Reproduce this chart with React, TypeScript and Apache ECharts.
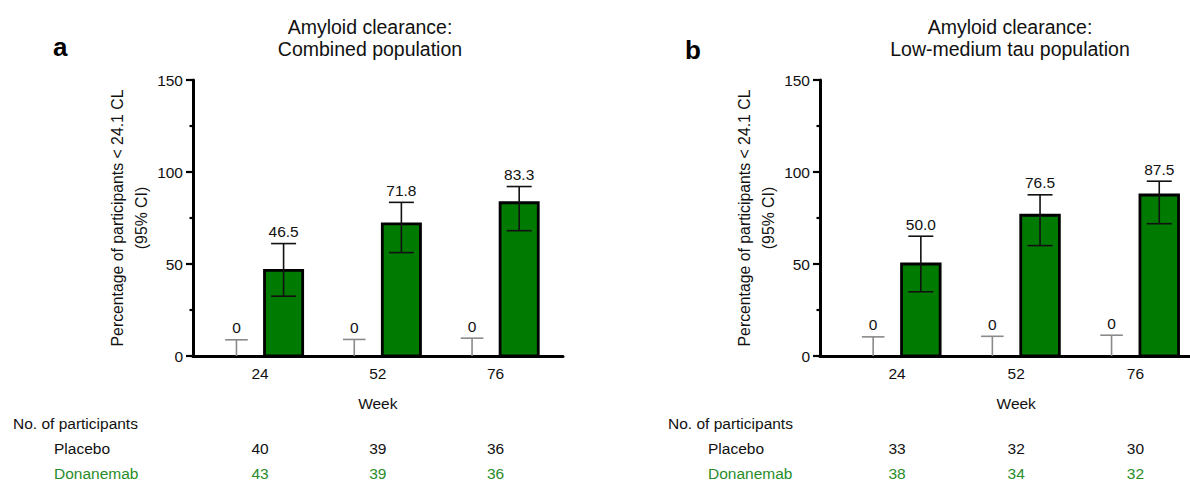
import React, { useEffect, useRef } from 'react';
import * as echarts from 'echarts';

// ---------- data ----------
const weeks = ['24', '52', '76'];
const weekIndex = [0, 1, 2];

// Panel a: combined population
const aPlaceboPct = [0, 0, 0];
const aPlaceboHi = [8.8, 9.0, 9.7];
const aDonPct = [46.5, 71.8, 83.3];
const aDonLo = [32.5, 56.2, 68.1];
const aDonHi = [61.1, 83.5, 92.1];
const aPlaceboN = [40, 39, 36];
const aDonN = [43, 39, 36];

// Panel b: low-medium tau population
const bPlaceboPct = [0, 0, 0];
const bPlaceboHi = [10.4, 10.7, 11.3];
const bDonPct = [50.0, 76.5, 87.5];
const bDonLo = [34.9, 60.0, 71.9];
const bDonHi = [65.1, 87.6, 95.0];
const bPlaceboN = [33, 32, 30];
const bDonN = [38, 34, 32];

const yTicks = { min: 0, max: 150, interval: 50 };

// ---------- styles ----------
const FONT = '"Liberation Sans", Arial, Helvetica, sans-serif';
const FS = 15.5;
const BAR_FILL = '#007a00';
const GREEN_TEXT = '#2a8c2a';
const PLACEBO_GREY = '#8a8a8a';
const BAR_OFFSET = 0.2; // in category units
const BAR_HALF = 0.162; // in category units
const CAP_DON = 12.5;
const CAP_PBO = 11.3;

const fmt = (v: number) => (v === 0 ? '0' : v.toFixed(1));

const donRender = (params: any, api: any) => {
  const i = api.value(0);
  const v = api.value(1);
  const lo = api.value(2);
  const hi = api.value(3);
  const base = api.coord([i, 0]);
  const top = api.coord([i, v]);
  const loP = api.coord([i, lo]);
  const hiP = api.coord([i, hi]);
  const off = api.size([BAR_OFFSET, 0])[0];
  const half = api.size([BAR_HALF, 0])[0];
  const cx = base[0] + off;
  const ls = { stroke: '#111', lineWidth: 1.6 };
  return {
    type: 'group',
    children: [
      {
        type: 'rect',
        shape: { x: cx - half, y: top[1], width: half * 2, height: base[1] - top[1] },
        style: { fill: BAR_FILL, stroke: '#000', lineWidth: 2.8 },
      },
      { type: 'line', shape: { x1: cx, y1: loP[1], x2: cx, y2: hiP[1] }, style: ls },
      { type: 'line', shape: { x1: cx - CAP_DON, y1: hiP[1], x2: cx + CAP_DON, y2: hiP[1] }, style: ls },
      { type: 'line', shape: { x1: cx - CAP_DON, y1: loP[1], x2: cx + CAP_DON, y2: loP[1] }, style: ls },
      {
        type: 'text',
        x: cx,
        y: hiP[1] - 12,
        style: { text: fmt(v), fontSize: FS, fontFamily: FONT, fill: '#111', align: 'center', verticalAlign: 'middle' },
      },
    ],
  };
};

const pboRender = (params: any, api: any) => {
  const i = api.value(0);
  const v = api.value(1);
  const hi = api.value(2);
  const base = api.coord([i, v]);
  const hiP = api.coord([i, hi]);
  const off = api.size([BAR_OFFSET, 0])[0];
  const cx = base[0] - off;
  const ls = { stroke: PLACEBO_GREY, lineWidth: 1.6 };
  return {
    type: 'group',
    children: [
      { type: 'line', shape: { x1: cx, y1: base[1], x2: cx, y2: hiP[1] }, style: ls },
      { type: 'line', shape: { x1: cx - CAP_PBO, y1: hiP[1], x2: cx + CAP_PBO, y2: hiP[1] }, style: ls },
      {
        type: 'text',
        x: cx,
        y: hiP[1] - 12,
        style: { text: fmt(v), fontSize: FS, fontFamily: FONT, fill: '#111', align: 'center', verticalAlign: 'middle' },
      },
    ],
  };
};

type Panel = {
  grid: { left: number; top: number; width: number; height: number };
  xMin: number;
  xMax: number;
  nameGap: number;
  placebo: number[];
  placeboHi: number[];
  don: number[];
  donLo: number[];
  donHi: number[];
  placeboN: number[];
  donN: number[];
};

const panels: Panel[] = [
  {
    grid: { left: 193, top: 80, width: 370, height: 276 },
    xMin: -0.569,
    xMax: 2.572,
    nameGap: 33,
    placebo: aPlaceboPct,
    placeboHi: aPlaceboHi,
    don: aDonPct,
    donLo: aDonLo,
    donHi: aDonHi,
    placeboN: aPlaceboN,
    donN: aDonN,
  },
  {
    grid: { left: 820, top: 80, width: 370, height: 276 },
    xMin: -0.646,
    xMax: 2.458,
    nameGap: 33,
    placebo: bPlaceboPct,
    placeboHi: bPlaceboHi,
    don: bDonPct,
    donLo: bDonLo,
    donHi: bDonHi,
    placeboN: bPlaceboN,
    donN: bDonN,
  },
];

const labelStyle = { fontSize: FS, color: '#111', fontFamily: FONT };

function buildOption() {
  const grid: any[] = [];
  const xAxis: any[] = [];
  const yAxis: any[] = [];
  const series: any[] = [];

  panels.forEach((p, g) => {
    grid.push({ ...p.grid, containLabel: false });
    const baseX = {
      gridIndex: g,
      type: 'value',
      min: p.xMin,
      max: p.xMax,
      position: 'bottom',
      splitLine: { show: false },
      axisTick: { show: false },
    };
    const xStart = xAxis.length;
    // main axis with week labels
    xAxis.push({
      ...baseX,
      axisLine: { show: true, onZero: false, lineStyle: { color: '#000', width: 3 } },
      axisLabel: { ...labelStyle, customValues: weekIndex, formatter: (v: number) => weeks[Math.round(v)], margin: 9 },
    });
    // "Week" title under the middle category
    xAxis.push({
      ...baseX,
      offset: 39,
      axisLine: { show: false, onZero: false },
      axisLabel: { ...labelStyle, customValues: [1], formatter: () => 'Week', margin: 0 },
    });
    // participant counts
    xAxis.push({
      ...baseX,
      offset: 84,
      axisLine: { show: false, onZero: false },
      axisLabel: { ...labelStyle, customValues: weekIndex, formatter: (v: number) => String(p.placeboN[Math.round(v)]), margin: 0 },
    });
    xAxis.push({
      ...baseX,
      offset: 109,
      axisLine: { show: false, onZero: false },
      axisLabel: {
        ...labelStyle,
        color: GREEN_TEXT,
        customValues: weekIndex,
        formatter: (v: number) => String(p.donN[Math.round(v)]),
        margin: 0,
      },
    });

    yAxis.push({
      gridIndex: g,
      type: 'value',
      ...yTicks,
      axisLine: { show: true, onZero: false, lineStyle: { color: '#000', width: 3 } },
      axisTick: { show: true, length: 7, lineStyle: { color: '#000', width: 2.2 } },
      minorTick: { show: true, splitNumber: 2, length: 3.5, lineStyle: { color: '#000', width: 2.2 } },
      splitLine: { show: false },
      minorSplitLine: { show: false },
      axisLabel: { ...labelStyle, margin: 10 },
      name: 'Percentage of participants < 24.1 CL\n(95% CI)',
      nameLocation: 'middle',
      nameGap: p.nameGap,
      nameTextStyle: { fontSize: 15.8, lineHeight: 24, color: '#111', fontFamily: FONT },
    });

    series.push({
      type: 'custom',
      name: 'Placebo',
      xAxisIndex: xStart,
      yAxisIndex: g,
      renderItem: pboRender,
      encode: { x: 0, y: 1 },
      clip: false,
      data: weekIndex.map((i) => [i, p.placebo[i], p.placeboHi[i]]),
    });
    series.push({
      type: 'custom',
      name: 'Donanemab',
      xAxisIndex: xStart,
      yAxisIndex: g,
      renderItem: donRender,
      encode: { x: 0, y: 1 },
      clip: false,
      data: weekIndex.map((i) => [i, p.don[i], p.donLo[i], p.donHi[i]]),
    });
  });

  const txt = (x: number, y: number, text: string, extra: any = {}) => ({
    type: 'text',
    x,
    y,
    style: { text, fontSize: FS, fontFamily: FONT, fill: '#111', verticalAlign: 'middle', ...extra },
  });

  const graphic = [
    txt(53, 33.5, 'a', { fontSize: 26, fontWeight: 'bold', fill: '#000', verticalAlign: 'alphabetic' }),
    txt(685, 37, 'b', { fontSize: 26, fontWeight: 'bold', fill: '#000', verticalAlign: 'alphabetic' }),
    txt(370, 27, 'Amyloid clearance:', { fontSize: 19.5, align: 'center' }),
    txt(370, 49, 'Combined population', { fontSize: 19.5, align: 'center' }),
    txt(1010, 27, 'Amyloid clearance:', { fontSize: 19.5, align: 'center' }),
    txt(1010, 49, 'Low-medium tau population', { fontSize: 19.5, align: 'center' }),
    txt(13, 423, 'No. of participants'),
    txt(54, 448, 'Placebo'),
    txt(54, 473.5, 'Donanemab', { fill: GREEN_TEXT }),
    txt(668, 423, 'No. of participants'),
    txt(708, 448, 'Placebo'),
    txt(708, 473.5, 'Donanemab', { fill: GREEN_TEXT }),
  ];

  return {
    animation: false,
    backgroundColor: '#fff',
    textStyle: { fontFamily: FONT },
    grid,
    xAxis,
    yAxis,
    series,
    graphic,
  };
}

export default function App() {
  const ref = useRef<HTMLDivElement>(null);
  useEffect(() => {
    if (!ref.current) return;
    const chart = echarts.init(ref.current, undefined, { renderer: 'svg' });
    chart.setOption(buildOption() as any);
    return () => chart.dispose();
  }, []);
  return <div ref={ref} style={{ position: 'absolute', left: 0, top: 0, width: 1190, height: 482 }} />;
}
